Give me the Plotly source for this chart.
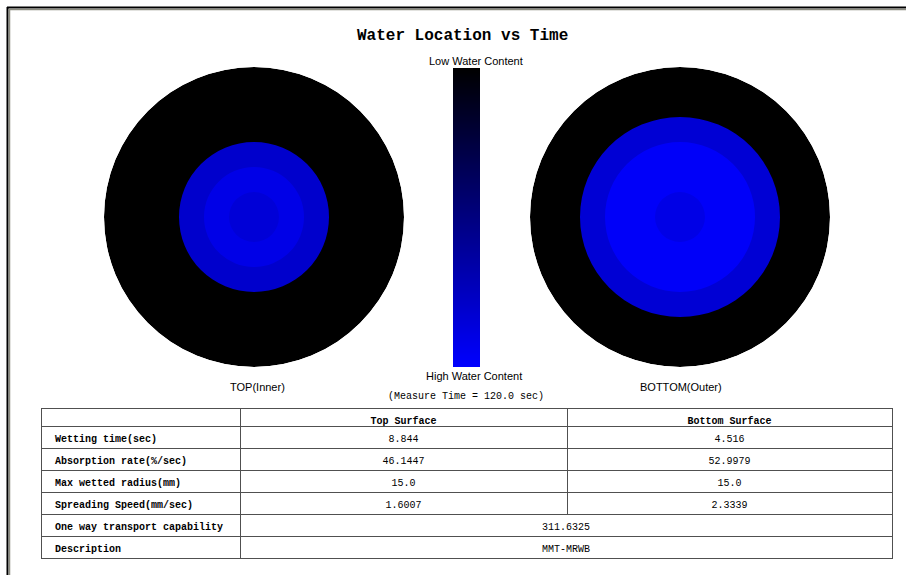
import plotly.graph_objects as go

# ---- ring data (outer radius in mm, water content 0 = dry, 1 = saturated) ----
ring_outer_mm = [5, 10, 15, 20, 25, 30]
top_content = [0.845, 0.905, 0.80, 0.0, 0.0, 0.0]
bottom_content = [0.90, 0.975, 0.975, 0.83, 0.0, 0.0]

# ---- colour ramp endpoints (low -> high water content) ----
ramp_levels = [0.0, 1.0]

# ---- table ----
row_labels = ["Wetting time(sec)", "Absorption rate(%/sec)", "Max wetted radius(mm)",
              "Spreading Speed(mm/sec)"]
top_surface = ["8.844", "46.1447", "15.0", "1.6007"]
bottom_surface = ["4.516", "52.9979", "15.0", "2.3339"]
summary_labels = ["One way transport capability", "Description"]
summary_values = ["311.6325", "MMT-MRWB"]

W, H = 906, 575


def px(x):
    return x / W


def py(y):
    return 1 - y / H


mono = "Liberation Mono, Courier New, monospace"
sans = "Liberation Sans, Arial, sans-serif"
line_col = "#505050"

fig = go.Figure()

# wetting rings on each surface: full discs painted outermost first so
# each smaller disc covers the centre of the one beneath it
for sub, vals in (("polar", top_content), ("polar2", bottom_content)):
    radii = ring_outer_mm[::-1]
    colours = vals[::-1]
    fig.add_trace(go.Barpolar(
        r=radii, base=[0] * len(radii), theta=[0] * len(radii), width=[360] * len(radii),
        marker=dict(color=colours, coloraxis="coloraxis", line=dict(width=0)),
        subplot=sub, hoverinfo="skip", showlegend=False))

# vertical colour bar
fig.add_trace(go.Heatmap(
    z=[[v, v] for v in ramp_levels], x=[0, 1], y=ramp_levels,
    coloraxis="coloraxis", zsmooth="best", hoverinfo="skip",
    xaxis="x", yaxis="y"))

# property table (three columns)
fig.add_trace(go.Table(
    domain=dict(x=[px(41), px(892)], y=[py(516), py(408)]),
    columnwidth=[199, 327, 325],
    header=dict(values=["", "Top Surface", "Bottom Surface"],
                align="center", height=18, fill_color="white",
                line=dict(color=line_col, width=1),
                font=dict(family=mono, size=10, color="black", weight="bold")),
    cells=dict(values=[[" " + s for s in row_labels], top_surface, bottom_surface],
               align=["left", "center", "center"], height=22, fill_color="white",
               line=dict(color=line_col, width=1),
               font=dict(family=mono, size=10, color="black",
                         weight=["bold", "normal", "normal"]))))

# summary rows spanning both surface columns
fig.add_trace(go.Table(
    domain=dict(x=[px(41), px(892)], y=[py(562), py(514)]),
    columnwidth=[199, 652],
    header=dict(values=[" " + summary_labels[0], summary_values[0]],
                align=["left", "center"], height=22, fill_color="white",
                line=dict(color=line_col, width=1),
                font=dict(family=mono, size=10, color="black",
                          weight=["bold", "normal"])),
    cells=dict(values=[[" " + summary_labels[1]], [summary_values[1]]],
               align=["left", "center"], height=22, fill_color="white",
               line=dict(color=line_col, width=1),
               font=dict(family=mono, size=10, color="black",
                         weight=["bold", "normal"]))))

polar_common = dict(
    bgcolor="rgba(0,0,0,0)",
    radialaxis=dict(visible=False, range=[0, 30]),
    angularaxis=dict(visible=False),
)

annotations = [
    dict(text="<b>Water Location vs Time</b>", x=px(463), y=py(36),
         font=dict(family=mono, size=16, color="black")),
    dict(text="Low Water Content", x=px(476), y=py(61),
         font=dict(family=sans, size=11, color="black")),
    dict(text="High Water Content", x=px(474), y=py(376),
         font=dict(family=sans, size=11, color="black")),
    dict(text="TOP(Inner)", x=px(257), y=py(387),
         font=dict(family=sans, size=11, color="black")),
    dict(text="BOTTOM(Outer)", x=px(681), y=py(387),
         font=dict(family=sans, size=11, color="black")),
    dict(text="(Measure Time = 120.0 sec)", x=px(466), y=py(396),
         font=dict(family=mono, size=10, color="black")),
]
for a in annotations:
    a.update(xref="paper", yref="paper", showarrow=False,
             xanchor="center", yanchor="middle")

# page frame: dark outer edge with a grey inner bevel
shapes = [
    dict(type="line", xref="paper", yref="paper", x0=px(7), x1=1, y0=py(7.5), y1=py(7.5),
         line=dict(color="black", width=2)),
    dict(type="line", xref="paper", yref="paper", x0=px(7.5), x1=px(7.5), y0=py(7), y1=0,
         line=dict(color="black", width=2)),
    dict(type="line", xref="paper", yref="paper", x0=px(9), x1=1, y0=py(9.5), y1=py(9.5),
         line=dict(color="#8c8c80", width=1.5)),
    dict(type="line", xref="paper", yref="paper", x0=px(9.5), x1=px(9.5), y0=py(9), y1=0,
         line=dict(color="#8c8c80", width=1.5)),
]

fig.update_layout(
    width=W, height=H,
    margin=dict(l=0, r=0, t=0, b=0),
    paper_bgcolor="white", plot_bgcolor="white",
    showlegend=False,
    coloraxis=dict(colorscale=[[0, "#000000"], [1, "#0000FF"]], cmin=0, cmax=1,
                   showscale=False),
    polar=dict(domain=dict(x=[px(104), px(404)], y=[py(367), py(67)]), **polar_common),
    polar2=dict(domain=dict(x=[px(530), px(830)], y=[py(367), py(67)]), **polar_common),
    xaxis=dict(domain=[px(453), px(480)], range=[0, 1], visible=False, fixedrange=True),
    yaxis=dict(domain=[py(367), py(68)], range=[1, 0], visible=False, fixedrange=True),
    annotations=annotations,
    shapes=shapes,
)

fig.write_html("out.html")
